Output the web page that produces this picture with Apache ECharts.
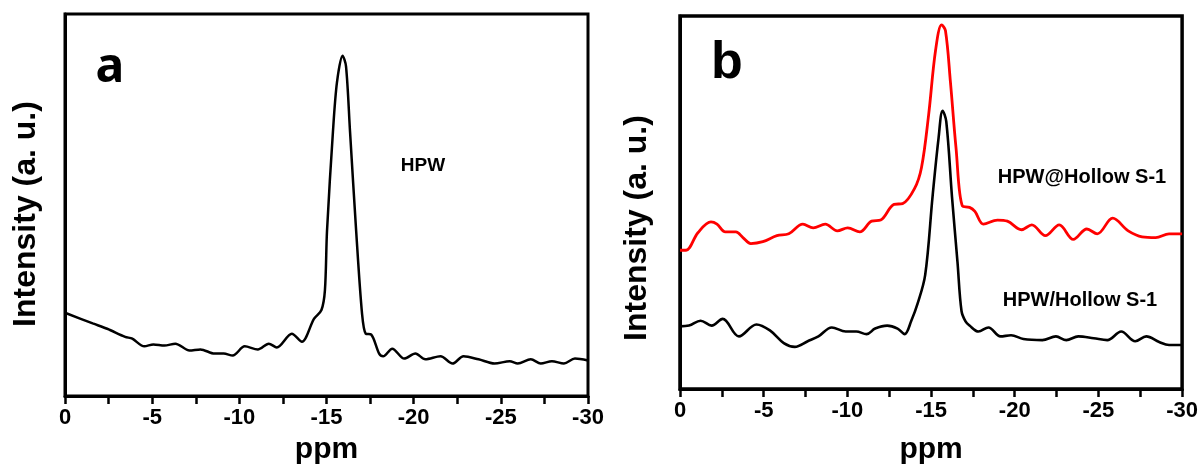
<!DOCTYPE html>
<html><head><meta charset="utf-8">
<script src="https://cdn.jsdelivr.net/npm/echarts@6/dist/echarts.min.js"></script>
<style>html,body{margin:0;padding:0;background:#fff}#c{width:1201px;height:470px}</style>
</head><body><div id="c"></div>
<script>
// Panel a: HPW
const aPpm = [0,-1.59,-2.42,-3.45,-3.86,-4.55,-5.07,-5.70,-6.33,-7.14,-7.77,-8.58,-9.10,-9.62,-10.31,-11.06,-11.69,-12.15,-13.01,-13.59,-14.28,-14.71,-14.91,-15.03,-15.37,-15.60,-15.92,-16.12,-16.35,-16.70,-17.04,-17.25,-17.56,-18.02,-18.25,-18.77,-19.46,-20.10,-20.67,-21.54,-22.23,-22.86,-23.72,-24.64,-25.51,-25.97,-26.72,-27.29,-27.93,-28.62,-29.25,-30];
const aInt = [21.8,19.0,17.6,15.5,15.0,13.0,13.5,13.2,13.7,11.9,12.2,11.1,11.1,10.6,13.0,12.2,13.7,12.7,16.3,14.2,20.2,22.5,27.7,43.3,69.2,82.1,89.1,86.3,69.2,43.3,21.5,16.3,16.1,11.1,10.4,12.4,9.8,11.1,9.6,10.4,8.5,10.4,9.6,8.5,9.1,8.5,9.6,8.5,9.1,8.5,9.8,9.3];

// Panel b: HPW@Hollow S-1 (red)
const bRedPpm = [0,-0.36,-1.07,-1.85,-2.21,-2.71,-3.34,-3.76,-4.23,-4.95,-5.79,-6.50,-7.34,-7.96,-8.68,-9.40,-10.02,-10.74,-11.45,-11.99,-12.79,-13.30,-14.01,-14.43,-14.85,-15.27,-15.63,-15.86,-16.16,-16.49,-16.88,-17.30,-17.62,-18.13,-18.97,-19.56,-20.40,-21.02,-21.83,-22.66,-23.50,-24.31,-24.93,-25.85,-26.78,-27.61,-28.42,-29.22,-30];
const bRedInt = [37.2,37.2,41.9,44.8,44.2,42.1,42.1,40.6,39.0,39.5,41.1,41.6,44.2,43.2,44.2,42.4,43.2,42.1,45.0,45.3,49.5,49.7,53.7,59.4,73.3,90.8,97.6,96.1,82.2,64.7,49.0,48.7,47.6,44.2,45.3,45.0,42.7,44.0,41.1,44.0,40.1,42.9,41.6,45.8,42.4,40.8,40.6,41.6,41.6];

// Panel b: HPW/Hollow S-1 (black)
const bBlkPpm = [0,-0.54,-1.23,-1.89,-2.55,-3.52,-4.57,-5.37,-6.20,-6.86,-7.63,-8.27,-9.07,-9.90,-10.53,-11.15,-11.66,-12.38,-13.00,-13.42,-13.82,-14.19,-14.65,-15.09,-15.45,-15.69,-15.91,-16.25,-16.58,-16.82,-17.06,-17.30,-17.83,-18.43,-19.15,-19.78,-20.52,-21.65,-22.46,-23.08,-23.80,-24.72,-25.53,-26.36,-27.20,-27.86,-28.63,-29.22,-30];
const bBlkInt = [16.8,17.0,18.3,17.0,18.8,14.1,17.3,15.7,12.3,11.3,12.8,14.1,16.5,15.4,15.4,14.7,16.2,17.0,16.2,14.7,18.3,22.8,30.6,51.6,67.3,74.6,71.7,51.6,34.0,20.9,18.1,17.0,15.4,16.5,14.1,14.4,13.4,13.1,14.1,13.1,14.1,13.6,13.1,15.4,12.8,14.1,12.6,11.8,11.8];

const xLabel = 'ppm';
const yLabel = 'Intensity (a. u.)';
const panelLabels = ['a','b'];
const seriesLabels = ['HPW','HPW@Hollow S-1','HPW/Hollow S-1'];

const zip = (xs, ys) => xs.map((x, i) => [x, ys[i]]);
const FONT = '"Liberation Sans", Arial, sans-serif';

function xAxis(idx, gap) {
  return {
    gridIndex: idx, type: 'value', min: -30, max: 0, interval: 5, inverse: true,
    name: xLabel, nameLocation: 'middle', nameGap: gap,
    nameTextStyle: {fontFamily: FONT, fontWeight: 'bold', fontSize: 30, color: '#000'},
    axisLine: {show: true, onZero: false, lineStyle: {color: '#000', width: 3}},
    axisTick: {show: true, inside: false, length: 8, lineStyle: {color: '#000', width: 2.5}},
    minorTick: {show: true, splitNumber: 2, length: 8, lineStyle: {color: '#000', width: 2.5}},
    axisLabel: {margin: 11, fontFamily: FONT, fontWeight: 'bold', fontSize: 22, color: '#000',
      formatter: v => String(v)},
    splitLine: {show: false}, minorSplitLine: {show: false}
  };
}
function yAxis(idx) {
  return {
    gridIndex: idx, type: 'value', min: 0, max: 100,
    axisLine: {show: true, onZero: false, lineStyle: {color: '#000', width: 3}},
    axisTick: {show: false}, axisLabel: {show: false}, splitLine: {show: false}
  };
}
const txt = (text, x, y, size, rot, font) => ({
  type: 'text', x: x, y: y, rotation: rot || 0,
  style: {text: text, font: 'bold ' + size + 'px ' + (font || FONT), fill: '#000',
    textAlign: 'center', textVerticalAlign: 'middle', align: 'center', verticalAlign: 'middle'}
});

const chart = echarts.init(document.getElementById('c'), null, {renderer: 'canvas'});
chart.setOption({
  backgroundColor: '#fff',
  animation: false,
  grid: [
    {left: 65, top: 14, width: 523, height: 386, show: true, borderColor: '#000', borderWidth: 3},
    {left: 680, top: 16, width: 504, height: 381, show: true, borderColor: '#000', borderWidth: 3.5}
  ],
  xAxis: [xAxis(0, 39), xAxis(1, 46)],
  yAxis: [yAxis(0), yAxis(1)],
  series: [
    {type: 'line', xAxisIndex: 0, yAxisIndex: 0, data: zip(aPpm, aInt), smooth: 0.3, showSymbol: false,
      lineStyle: {color: '#000', width: 2.5}},
    {type: 'line', xAxisIndex: 1, yAxisIndex: 1, data: zip(bRedPpm, bRedInt), smooth: 0.35, showSymbol: false,
      lineStyle: {color: '#ff0000', width: 2.8}},
    {type: 'line', xAxisIndex: 1, yAxisIndex: 1, data: zip(bBlkPpm, bBlkInt), smooth: 0.35, showSymbol: false,
      lineStyle: {color: '#000', width: 2.6}}
  ],
  graphic: [
    txt(yLabel, 26, 214, 32, Math.PI / 2),
    txt(yLabel, 637, 228, 32, Math.PI / 2),
    txt(panelLabels[0], 110, 68, 48, 0, '"Noto Sans", sans-serif'),
    txt(panelLabels[1], 727, 64, 52, 0),
    txt(seriesLabels[0], 423, 166, 19, 0),
    txt(seriesLabels[1], 1082, 177, 20, 0),
    txt(seriesLabels[2], 1080, 300, 20, 0)
  ]
});
</script>
</body></html>
